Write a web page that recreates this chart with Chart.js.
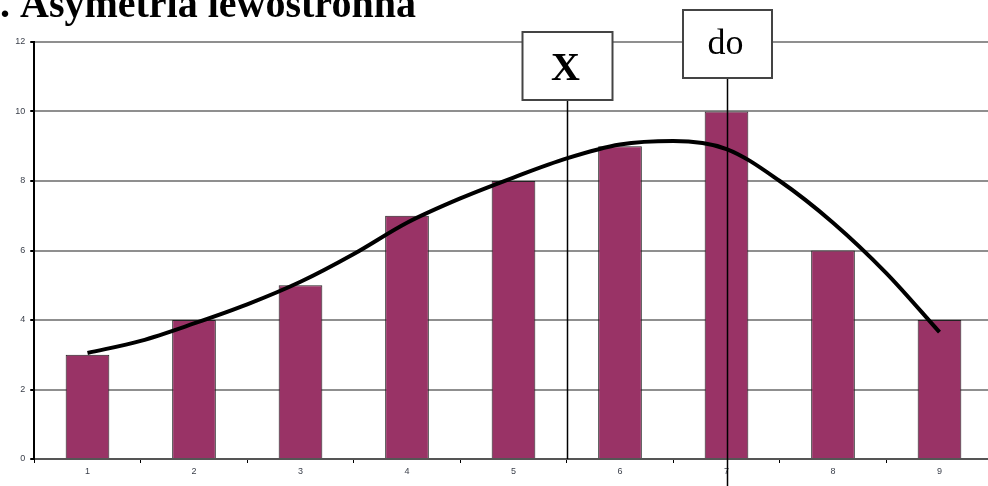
<!DOCTYPE html>
<html>
<head>
<meta charset="utf-8">
<script src="https://cdn.jsdelivr.net/npm/chart.js@4"></script>
<style>
  html, body { margin: 0; padding: 0; background: #fff; overflow: hidden; }
  #wrap { position: relative; width: 994px; height: 486px; }
</style>
</head>
<body>
<div id="wrap"><canvas id="c" width="994" height="486"></canvas></div>
<script>
// Frequency distribution
const categories = ['1', '2', '3', '4', '5', '6', '7', '8', '9'];
const frequencies = [3, 4, 5, 7, 8, 9, 10, 6, 4];

// Smoothed density curve traced over the bars
const curveX = [1, 1.5, 2, 2.5, 3, 3.5, 4, 4.5, 5, 5.5, 6, 6.5, 7, 7.5, 8, 8.5, 9];
const curveY = [3.05, 3.4, 3.9, 4.45, 5.1, 5.9, 6.8, 7.5, 8.1, 8.65, 9.05, 9.15, 8.92, 8.0, 6.8, 5.35, 3.65];

// Marked positions: mean and mode
const markerLabels = ['X', 'do'];
const markerValues = [5.5, 7];

const yTicks = [0, 2, 4, 6, 8, 10, 12];
const titleText = '. Asymetria lewostronna';

const markerPlugin = {
  id: 'markers',
  afterDatasetsDraw(chart) {
    const ctx = chart.ctx;
    const xl = chart.scales.xl;
    const area = chart.chartArea;
    const boxes = [
      { top: 32, w: 90, h: 68, font: 'bold 40px "Liberation Serif"', base: 80, lineEnd: area.bottom },
      { top: 10, w: 89, h: 68, font: '36px "Liberation Serif"', base: 54, lineEnd: 486 }
    ];
    ctx.save();
    markerValues.forEach((v, i) => {
      const px = Math.round(xl.getPixelForValue(v)) + 0.5;
      const b = boxes[i];
      // vertical line
      ctx.strokeStyle = '#000';
      ctx.lineWidth = 1.5;
      ctx.beginPath();
      ctx.moveTo(px, b.top + b.h);
      ctx.lineTo(px, b.lineEnd);
      ctx.stroke();
      // label box
      ctx.fillStyle = '#fff';
      ctx.fillRect(px - b.w / 2, b.top, b.w, b.h);
      ctx.strokeStyle = '#444';
      ctx.lineWidth = 2;
      ctx.strokeRect(px - b.w / 2, b.top, b.w, b.h);
      ctx.fillStyle = '#000';
      ctx.font = b.font;
      ctx.textAlign = 'center';
      ctx.textBaseline = 'alphabetic';
      ctx.fillText(markerLabels[i], px - 2, b.base);
    });
    // heading, partly above the top edge
    ctx.font = 'bold 40px "Liberation Serif"';
    ctx.textAlign = 'left';
    ctx.fillStyle = '#000';
    ctx.fillText(titleText, 0, 17);
    ctx.restore();
  }
};

new Chart(document.getElementById('c'), {
  type: 'bar',
  data: {
    labels: categories,
    datasets: [
      {
        type: 'line',
        data: curveX.map((x, i) => ({ x: x, y: curveY[i] })),
        xAxisID: 'xl',
        yAxisID: 'y',
        borderColor: '#000',
        borderWidth: 4,
        cubicInterpolationMode: 'monotone',
        pointRadius: 0,
        fill: false,
        order: 0
      },
      {
        type: 'bar',
        data: frequencies,
        xAxisID: 'x',
        yAxisID: 'y',
        backgroundColor: '#993366',
        borderColor: '#222',
        borderWidth: 1,
        grouped: false,
        categoryPercentage: 1,
        barPercentage: 0.41,
        order: 1
      }
    ]
  },
  options: {
    responsive: false,
    animation: false,
    devicePixelRatio: 1,
    layout: { padding: { left: 0, top: 42, right: 1.25, bottom: 0 } },
    plugins: { legend: { display: false }, tooltip: { enabled: false }, title: { display: false } },
    scales: {
      x: {
        type: 'category',
        offset: true,
        grid: { offset: true, drawOnChartArea: false, drawTicks: true, tickLength: 4, tickColor: '#000', lineWidth: 1 },
        border: { color: '#555', width: 2 },
        ticks: { color: '#3a3f4a', font: { family: 'Arial', size: 9 }, padding: 3, maxRotation: 0 },
        afterFit(s) { s.height = 27; }
      },
      xl: {
        type: 'linear',
        display: false,
        offset: false,
        min: 0.5,
        max: 9.5
      },
      y: {
        min: 0,
        max: 12,
        afterBuildTicks(s) { s.ticks = yTicks.map(v => ({ value: v })); },
        grid: { color: '#8f8f8f', lineWidth: 2, tickLength: 4, tickColor: '#000' },
        border: { color: '#000', width: 2 },
        ticks: { color: '#3a3f4a', font: { family: 'Arial', size: 9 }, padding: 5 },
        afterFit(s) { s.width = 34.25; }
      }
    }
  },
  plugins: [markerPlugin]
});
</script>
</body>
</html>
